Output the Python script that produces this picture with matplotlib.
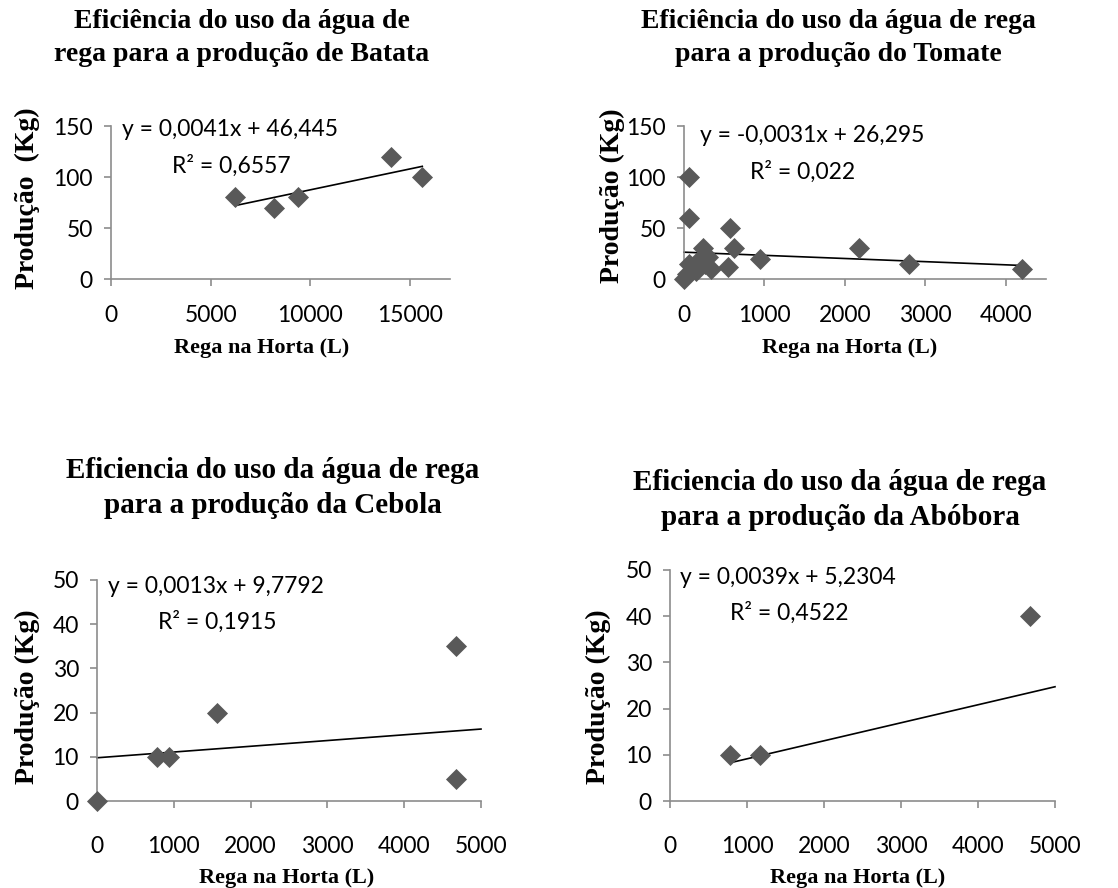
import matplotlib
matplotlib.use("Agg")
import matplotlib.pyplot as plt
from matplotlib.transforms import Bbox, TransformedBbox

W, H = 1118, 888

# dados
batata_x = [6220, 8190, 9360, 14040, 15610]
batata_y = [80, 70, 80, 120, 100]
batata_coef = (0.0041, 46.445)

tomate_x = [0, 40, 60, 60, 60, 120, 150, 200, 230, 260, 300, 340, 550, 570, 620, 940, 2180, 2800, 4200]
tomate_y = [0, 5, 15, 60, 100, 10, 8, 20, 30, 15, 22, 10, 12, 50, 30, 20, 30, 15, 10]
tomate_coef = (-0.0031, 26.295)

cebola_x = [0, 780, 940, 1560, 4670, 4670]
cebola_y = [0, 10, 10, 20, 35, 5]
cebola_coef = (0.0013, 9.7792)

abobora_x = [775, 1170, 4675]
abobora_y = [10, 10, 40]
abobora_coef = (0.0039, 5.2304)

titulos = [
    "Eficiência do uso da água de\nrega para a produção de Batata",
    "Eficiência do uso da água de rega\npara a produção do Tomate",
    "Eficiencia do uso da água de rega\npara a produção da Cebola",
    "Eficiencia do uso da água de rega\npara a produção da Abóbora",
]
eqs = [
    ("y = 0,0041x + 46,445", "R² = 0,6557"),
    ("y = -0,0031x + 26,295", "R² = 0,022"),
    ("y = 0,0013x + 9,7792", "R² = 0,1915"),
    ("y = 0,0039x + 5,2304", "R² = 0,4522"),
]
ylabels = ["Produção  (Kg)", "Produção (Kg)", "Produção (Kg)", "Produção (Kg)"]

SERIF = "Liberation Serif"
SANS = "Lato"
CINZA = "#595959"
EIXO = "#8c8c8c"

fig = plt.figure(figsize=(W / 100, H / 100), dpi=100)


def fx(px):
    return px / W


def fy(py):
    return 1 - py / H


def painel(x0, xend, y0, ytop, xs, ys, coef, xlim, xticks, ylim, yticks,
           titulo, tpos, eq, eqpos, ylab, ylpos, xlpos, linha_x, xpad=12,
           tsize=20, clip_top=None):
    ax = fig.add_axes([fx(x0), fy(y0), fx(xend - x0), (y0 - ytop) / H])
    ax.scatter(xs, ys, marker="D", s=115, color=CINZA, zorder=3, clip_on=False,
               linewidths=0)
    a, b = coef
    lx = list(linha_x)
    ax.plot(lx, [a * v + b for v in lx], color="black", lw=1.2, zorder=2,
            clip_on=False)
    ax.set_xlim(*xlim)
    ax.set_ylim(*ylim)
    ax.set_xticks(xticks)
    ax.set_yticks(yticks)
    for s in ["top", "right"]:
        ax.spines[s].set_visible(False)
    for s in ["left", "bottom"]:
        ax.spines[s].set_color(EIXO)
        ax.spines[s].set_linewidth(1.2)
    ax.tick_params(direction="out", length=5, width=1.2, color=EIXO,
                   labelsize=16.5)
    ax.tick_params(axis="x", pad=xpad)
    ax.tick_params(axis="y", pad=8)
    for lab in ax.get_xticklabels() + ax.get_yticklabels():
        lab.set_fontfamily(SANS)

    fig.text(fx(tpos[0]), fy(tpos[1]), titulo, ha="center", va="top",
             fontsize=tsize, fontweight="bold", family=SERIF, linespacing=1.4)
    fig.text(fx(eqpos[0]), fy(eqpos[1]), eq[0], ha="left", va="center",
             fontsize=16.5, family=SANS)
    fig.text(fx(eqpos[0] + 50), fy(eqpos[1] + 36), eq[1], ha="left", va="center",
             fontsize=16.5, family=SANS)
    t = fig.text(fx(ylpos[0]), fy(ylpos[1]), ylab, ha="center", va="center",
                 rotation=90, fontsize=20, fontweight="bold", family=SERIF)
    if clip_top is not None:
        bb = TransformedBbox(Bbox([[0, 0], [1, fy(clip_top)]]), fig.transFigure)
        t.set_clip_box(bb)
        t.set_clip_on(True)
    fig.text(fx(xlpos[0]), fy(xlpos[1]), "Rega na Horta (L)", ha="center",
             va="center", fontsize=16, fontweight="bold", family=SERIF)
    return ax


painel(111, 450, 279, 126, batata_x, batata_y, batata_coef,
       (0, 17000), [0, 5000, 10000, 15000], (0, 150), [0, 50, 100, 150],
       titulos[0], (242, 9), eqs[0], (122, 130), ylabels[0], (27, 198), (262, 348),
       (min(batata_x), max(batata_x)), xpad=14, clip_top=93)

painel(684, 1046, 279, 126, tomate_x, tomate_y, tomate_coef,
       (0, 4500), [0, 1000, 2000, 3000, 4000], (0, 150), [0, 50, 100, 150],
       titulos[1], (838, 9), eqs[1], (700, 136), ylabels[1], (612, 196), (850, 348),
       (min(tomate_x), max(tomate_x)), xpad=14, clip_top=93)

painel(97, 481, 801, 580, cebola_x, cebola_y, cebola_coef,
       (0, 5000), [0, 1000, 2000, 3000, 4000, 5000], (0, 50), [0, 10, 20, 30, 40, 50],
       titulos[2], (273, 457), eqs[2], (108, 586), ylabels[2], (27, 697), (287, 878),
       (0, 5000), xpad=20, tsize=21)

painel(670, 1055, 801, 570, abobora_x, abobora_y, abobora_coef,
       (0, 5000), [0, 1000, 2000, 3000, 4000, 5000], (0, 50), [0, 10, 20, 30, 40, 50],
       titulos[3], (840, 469), eqs[3], (680, 577), ylabels[3], (598, 697), (858, 878),
       (min(abobora_x), 5000), xpad=20, tsize=21)

fig.savefig("out.png", dpi=100, facecolor="white")
